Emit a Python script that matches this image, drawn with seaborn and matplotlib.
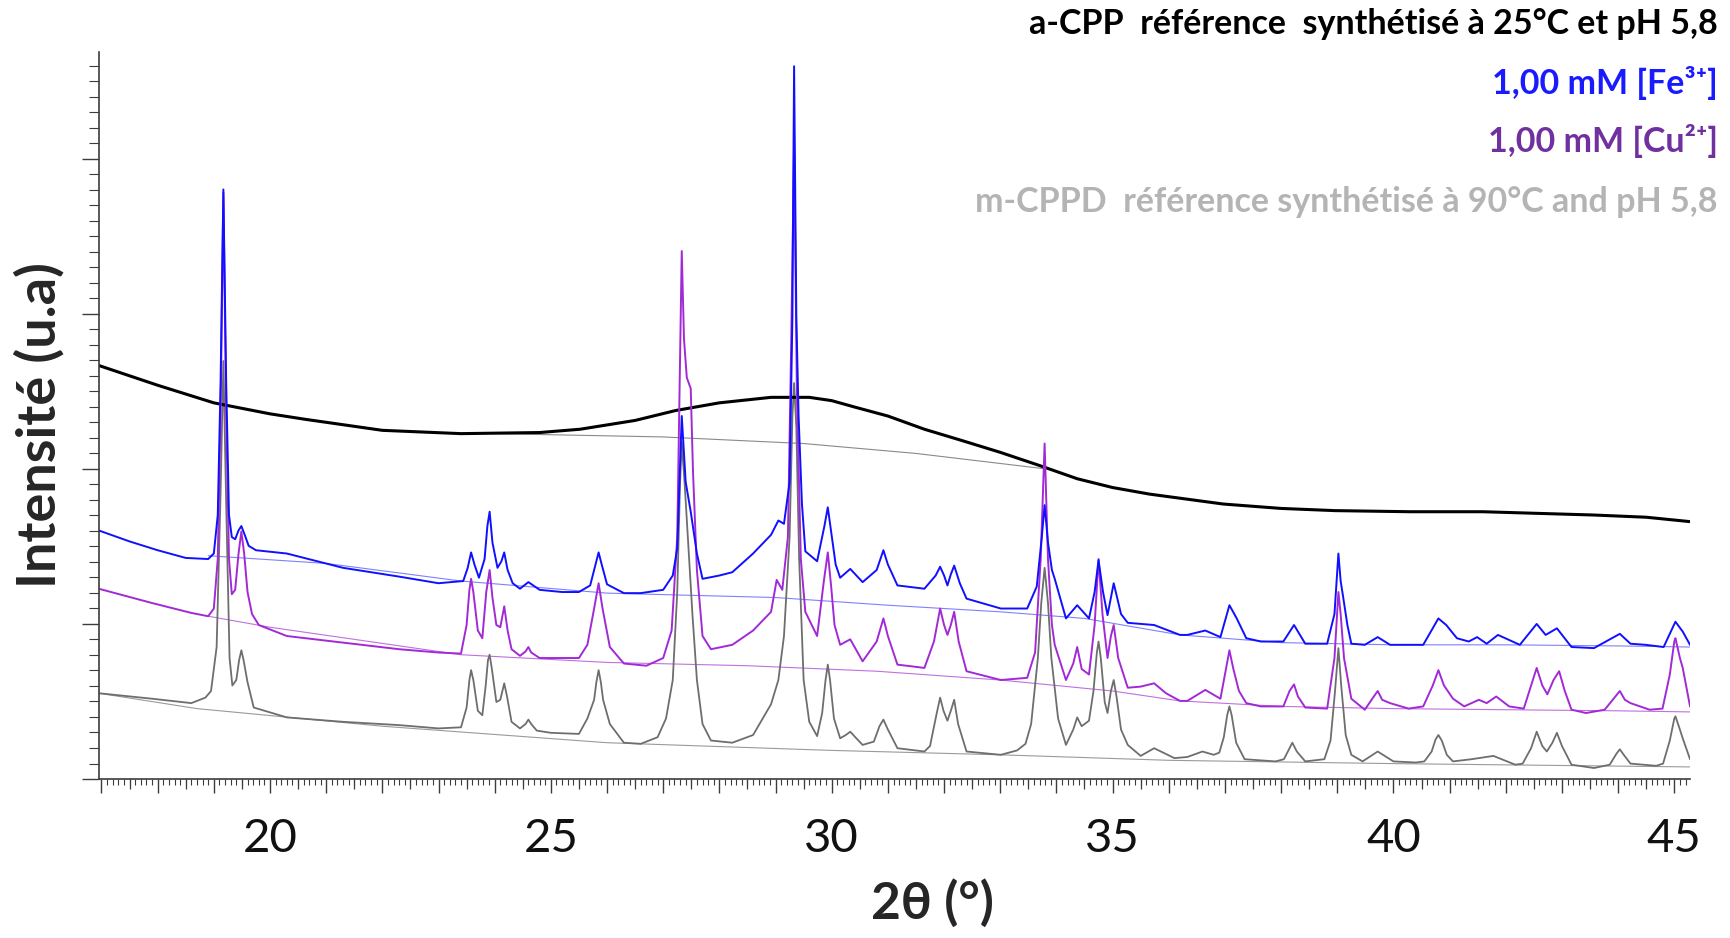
import numpy as np
import matplotlib
matplotlib.use("Agg")
import matplotlib.pyplot as plt
from matplotlib.ticker import MultipleLocator, FuncFormatter
import seaborn as sns

# Diffractogrammes DRX : (2theta en degres, intensite en u.a.)

# a-CPP reference (25 C, pH 5,8)
acpp = [(16.95, 376), (18.0, 358), (19.0, 342), (20.0, 332), (20.63, 327), (22.0, 317),
        (23.4, 314), (24.8, 315), (25.52, 318), (26.5, 326), (27.22, 335), (28.0, 342),
        (28.92, 347), (29.6, 347), (30.0, 344), (30.42, 338), (31.0, 330), (31.65, 318),
        (32.3, 308), (33.0, 297), (33.7, 285), (34.37, 273), (35.0, 265), (35.66, 259),
        (36.97, 250), (38.0, 246), (38.96, 244), (40.3, 243), (41.59, 243), (43.57, 240),
        (44.5, 238), (45.28, 234)]
acpp_bg = [(24.0, 314), (27.0, 311), (29.5, 305), (31.5, 296), (33.8, 282)]

# 1,00 mM Fe3+
fe = [(16.95, 226), (17.5, 216), (18.0, 208), (18.5, 201), (18.9, 200), (19.0, 205),
      (19.07, 240), (19.12, 360), (19.17, 536), (19.22, 360), (19.27, 240), (19.32, 220),
      (19.38, 218), (19.44, 226), (19.49, 230), (19.55, 222), (19.62, 212), (19.75, 208),
      (20.3, 205), (21.3, 192), (22.3, 184), (23.0, 178), (23.44, 180), (23.52, 192),
      (23.58, 206), (23.64, 195), (23.72, 183), (23.82, 200), (23.87, 230), (23.91, 243),
      (23.96, 215), (24.05, 192), (24.12, 198), (24.17, 206), (24.23, 190), (24.32, 178),
      (24.45, 173), (24.6, 179), (24.8, 172), (25.2, 170), (25.5, 170), (25.7, 176),
      (25.8, 196), (25.85, 206), (25.9, 196), (26.0, 177), (26.3, 169), (26.6, 169),
      (27.0, 172), (27.17, 185), (27.25, 210), (27.33, 330), (27.4, 270), (27.49, 243),
      (27.6, 205), (27.7, 182), (28.0, 185), (28.23, 188), (28.6, 205), (28.92, 222),
      (29.05, 235), (29.15, 232), (29.25, 270), (29.3, 420), (29.33, 648), (29.37, 420),
      (29.41, 330), (29.47, 250), (29.53, 207), (29.74, 198), (29.87, 230), (29.93, 247),
      (29.99, 225), (30.07, 195), (30.15, 183), (30.33, 191), (30.55, 179), (30.8, 190),
      (30.92, 208), (31.0, 195), (31.17, 176), (31.65, 173), (31.85, 185), (31.93, 193),
      (32.0, 185), (32.06, 176), (32.12, 186), (32.18, 194), (32.28, 178), (32.4, 164),
      (33.01, 155), (33.48, 155), (33.65, 175), (33.74, 220), (33.79, 249), (33.85, 215),
      (33.92, 190), (33.97, 182), (34.17, 146), (34.37, 158), (34.58, 146), (34.68, 170),
      (34.75, 199), (34.83, 170), (34.91, 149), (35.02, 178), (35.15, 150), (35.27, 142),
      (35.74, 140), (36.2, 131), (36.33, 131), (36.65, 135), (36.92, 129), (37.08, 158),
      (37.21, 146), (37.38, 128), (37.64, 125), (38.04, 125), (38.23, 140), (38.43, 123),
      (38.82, 123), (38.95, 150), (39.02, 205), (39.06, 180), (39.1, 167), (39.18, 140),
      (39.25, 123), (39.49, 122), (39.72, 129), (39.94, 122), (40.53, 122), (40.8, 146),
      (40.94, 140), (41.13, 128), (41.34, 125), (41.49, 129), (41.66, 123), (41.86, 131),
      (42.25, 122), (42.55, 141), (42.71, 131), (42.91, 137), (43.17, 120), (43.57, 119),
      (44.03, 132), (44.22, 123), (44.49, 122), (44.81, 120), (45.02, 143), (45.15, 134),
      (45.28, 122)]
fe_bg = [(18.9, 203), (21.0, 196), (23.4, 180), (26.0, 169), (29.0, 165), (31.0, 158),
         (33.0, 152), (34.5, 146), (36.2, 131), (38.0, 124), (40.0, 122), (42.0, 122),
         (44.0, 121), (45.28, 120)]

# 1,00 mM Cu2+
cu = [(16.95, 173), (17.9, 160), (18.6, 151), (18.9, 148), (19.0, 155), (19.07, 200),
      (19.12, 330), (19.17, 533), (19.22, 330), (19.27, 200), (19.32, 168), (19.38, 172),
      (19.44, 205), (19.49, 225), (19.54, 205), (19.6, 170), (19.68, 150), (19.8, 140),
      (20.3, 130), (21.3, 124), (22.3, 118), (23.0, 115), (23.4, 114), (23.5, 140),
      (23.55, 172), (23.58, 182), (23.62, 170), (23.7, 135), (23.78, 128), (23.85, 170),
      (23.91, 190), (23.96, 165), (24.03, 140), (24.1, 138), (24.17, 157), (24.23, 135),
      (24.3, 118), (24.45, 112), (24.55, 116), (24.6, 120), (24.65, 115), (24.8, 110),
      (25.0, 110), (25.5, 110), (25.65, 122), (25.77, 155), (25.85, 178), (25.92, 155),
      (26.05, 120), (26.3, 105), (26.7, 103), (27.0, 110), (27.15, 135), (27.25, 220),
      (27.3, 380), (27.33, 480), (27.37, 400), (27.42, 365), (27.49, 355), (27.53, 280),
      (27.6, 190), (27.7, 130), (27.85, 118), (28.23, 122), (28.6, 135), (28.92, 152),
      (29.02, 181), (29.12, 172), (29.22, 220), (29.28, 400), (29.33, 578), (29.38, 350),
      (29.45, 200), (29.53, 152), (29.74, 130), (29.86, 180), (29.93, 206), (29.99, 175),
      (30.05, 140), (30.15, 122), (30.33, 127), (30.55, 107), (30.8, 125), (30.92, 146),
      (31.0, 130), (31.17, 104), (31.65, 101), (31.82, 125), (31.93, 155), (32.0, 140),
      (32.06, 131), (32.12, 140), (32.18, 152), (32.26, 125), (32.4, 98), (33.01, 90),
      (33.48, 92), (33.62, 115), (33.72, 200), (33.79, 305), (33.85, 200), (33.92, 140),
      (33.97, 122), (34.17, 90), (34.3, 105), (34.37, 120), (34.45, 100), (34.58, 95),
      (34.68, 140), (34.75, 200), (34.82, 150), (34.91, 110), (34.97, 130), (35.02, 140),
      (35.1, 110), (35.27, 83), (35.5, 84), (35.74, 87), (35.95, 78), (36.2, 71),
      (36.33, 71), (36.65, 81), (36.92, 73), (37.0, 95), (37.08, 117), (37.15, 100),
      (37.25, 80), (37.38, 69), (37.64, 66), (38.04, 66), (38.15, 80), (38.23, 86),
      (38.3, 75), (38.43, 65), (38.82, 64), (38.95, 110), (39.02, 170), (39.06, 150),
      (39.12, 110), (39.25, 73), (39.49, 63), (39.65, 75), (39.72, 80), (39.8, 72),
      (39.94, 69), (40.27, 64), (40.53, 66), (40.7, 85), (40.8, 99), (40.9, 85),
      (41.06, 73), (41.26, 66), (41.52, 72), (41.66, 69), (41.83, 75), (42.06, 66),
      (42.32, 64), (42.45, 85), (42.55, 101), (42.65, 85), (42.74, 77), (42.85, 90),
      (42.95, 98), (43.05, 80), (43.17, 63), (43.43, 60), (43.76, 63), (43.95, 75),
      (44.03, 80), (44.12, 72), (44.22, 69), (44.56, 63), (44.79, 64), (44.92, 95),
      (45.0, 125), (45.02, 128), (45.1, 110), (45.15, 101), (45.28, 66)]
cu_bg = [(18.9, 148), (20.0, 138), (23.4, 113), (26.0, 106), (28.5, 103), (30.8, 98),
         (33.0, 90), (35.0, 80), (36.2, 71), (38.0, 66), (40.0, 64), (42.0, 63),
         (44.0, 62), (45.28, 61)]

# m-CPPD reference (90 C, pH 5,8)
mcppd = [(16.95, 78), (17.9, 73), (18.6, 69), (18.85, 74), (18.95, 80), (19.05, 120),
         (19.12, 260), (19.17, 380), (19.22, 250), (19.28, 110), (19.33, 85), (19.4, 90),
         (19.45, 108), (19.49, 117), (19.53, 108), (19.6, 88), (19.71, 65), (20.3, 56),
         (21.3, 52), (22.3, 49), (23.0, 46), (23.4, 47), (23.5, 65), (23.55, 90),
         (23.58, 99), (23.62, 90), (23.7, 62), (23.78, 58), (23.84, 85), (23.88, 108),
         (23.91, 113), (23.95, 100), (24.03, 70), (24.1, 72), (24.17, 87), (24.22, 75),
         (24.3, 52), (24.45, 46), (24.55, 50), (24.6, 54), (24.65, 50), (24.75, 44),
         (25.0, 42), (25.5, 41), (25.65, 55), (25.77, 72), (25.81, 88), (25.85, 99),
         (25.89, 88), (25.93, 72), (26.05, 50), (26.3, 33), (26.6, 32), (26.9, 38),
         (27.05, 55), (27.17, 90), (27.25, 170), (27.3, 270), (27.33, 306), (27.38, 270),
         (27.45, 210), (27.52, 150), (27.6, 90), (27.7, 50), (27.85, 35), (28.23, 33),
         (28.6, 40), (28.92, 68), (29.05, 90), (29.15, 130), (29.25, 220), (29.3, 330),
         (29.33, 360), (29.37, 320), (29.42, 200), (29.5, 90), (29.6, 52), (29.74, 39),
         (29.83, 60), (29.89, 90), (29.93, 104), (29.97, 90), (30.04, 55), (30.15, 37),
         (30.25, 40), (30.33, 43), (30.42, 38), (30.55, 31), (30.75, 34), (30.85, 48),
         (30.92, 54), (31.0, 45), (31.17, 28), (31.65, 25), (31.75, 30), (31.87, 60),
         (31.93, 74), (31.99, 62), (32.06, 53), (32.12, 62), (32.18, 72), (32.25, 50),
         (32.4, 25), (33.01, 22), (33.3, 26), (33.45, 32), (33.55, 50), (33.67, 110),
         (33.73, 160), (33.79, 192), (33.85, 160), (33.91, 110), (34.03, 55), (34.17, 31),
         (34.3, 45), (34.37, 56), (34.45, 48), (34.58, 53), (34.66, 80), (34.72, 115),
         (34.75, 125), (34.79, 110), (34.86, 70), (34.91, 60), (34.97, 80), (35.02, 90),
         (35.07, 75), (35.15, 45), (35.27, 31), (35.5, 21), (35.74, 28), (36.1, 19),
         (36.33, 20), (36.6, 25), (36.8, 22), (36.9, 24), (36.98, 38), (37.04, 58),
         (37.08, 66), (37.12, 58), (37.2, 33), (37.35, 18), (37.9, 16), (38.05, 18),
         (38.15, 28), (38.2, 33), (38.28, 25), (38.43, 16), (38.77, 18), (38.88, 35),
         (38.96, 80), (39.02, 119), (39.07, 85), (39.15, 40), (39.25, 22), (39.45, 16),
         (39.72, 25), (40.0, 16), (40.4, 15), (40.55, 16), (40.68, 25), (40.75, 36),
         (40.8, 40), (40.86, 35), (40.95, 22), (41.06, 16), (41.39, 18), (41.78, 21),
         (42.17, 13), (42.3, 14), (42.45, 28), (42.55, 43), (42.65, 30), (42.73, 25),
         (42.83, 33), (42.91, 42), (43.0, 30), (43.17, 13), (43.57, 10), (43.85, 13),
         (43.97, 23), (44.03, 27), (44.1, 22), (44.22, 14), (44.68, 12), (44.8, 14),
         (44.92, 35), (45.0, 55), (45.02, 57), (45.08, 48), (45.15, 37), (45.28, 18)]
mcppd_bg = [(16.95, 78), (18.7, 64), (22.0, 48), (26.0, 33), (30.0, 26), (33.0, 22),
            (36.0, 17), (40.0, 14), (45.28, 11)]

legend_labels = ["a-CPP  référence  synthétisé à 25°C et pH 5,8",
                 "1,00 mM [Fe³⁺]",
                 "1,00 mM [Cu²⁺]",
                 "m-CPPD  référence synthétisé à 90°C and pH 5,8"]
legend_colors = ["#000000", "#1a1aff", "#7030a0", "#b4b4b4"]

FONT = ["Lato", "DejaVu Sans"]

sns.set_style("white")
plt.rcParams["font.family"] = FONT

fig = plt.figure(figsize=(17.3, 9.38), dpi=100)
ax = fig.add_axes([0.0572, 0.1695, 0.9197, 0.7751])


def trace(points, color, lw):
    xs, ys = zip(*points)
    sns.lineplot(x=list(xs), y=list(ys), ax=ax, color=color, lw=lw, estimator=None)


# lignes de base
trace(mcppd_bg, "#9a9a9a", 0.8)
trace(acpp_bg, "#8a8a8a", 0.8)
trace(fe_bg, "#8080ff", 0.8)
trace(cu_bg, "#c070e0", 0.8)

# diffractogrammes
trace(mcppd, "#6e6e6e", 1.3)
trace(acpp, "#000000", 2.2)
trace(cu, "#a22ad6", 1.4)
trace(fe, "#1010ff", 1.4)

ax.set_xlim(16.955, 45.28)
ax.set_ylim(0, 661)

for s in ["top", "right"]:
    ax.spines[s].set_visible(False)
for s in ["left", "bottom"]:
    ax.spines[s].set_color("#3c3c3c")
    ax.spines[s].set_linewidth(1.2)

ax.xaxis.set_major_locator(MultipleLocator(1))
ax.xaxis.set_minor_locator(MultipleLocator(0.1))
ax.xaxis.set_major_formatter(FuncFormatter(lambda v, p: f"{v:.0f}" if round(v) % 5 == 0 else ""))
ax.yaxis.set_major_locator(MultipleLocator(141))
ax.yaxis.set_minor_locator(MultipleLocator(14.1))
ax.yaxis.set_major_formatter(FuncFormatter(lambda v, p: ""))

ax.tick_params(axis="x", which="major", direction="out", length=10, width=1.0,
               color="#3c3c3c", labelsize=34, pad=18, labelcolor="#111111")
ax.tick_params(axis="x", which="minor", direction="out", length=4, width=0.8, color="#3c3c3c")
ax.tick_params(axis="y", which="major", direction="out", length=12, width=1.0, color="#3c3c3c")
ax.tick_params(axis="y", which="minor", direction="out", length=7, width=0.8, color="#3c3c3c")
ax.tick_params(left=True, bottom=True, which="both")

# graduations des demi-degres
sec = ax.secondary_xaxis("bottom")
sec.set_xticks(np.arange(17.5, 45.5, 1.0))
sec.tick_params(direction="out", length=7, width=0.9, color="#3c3c3c", labelbottom=False)
sec.spines["bottom"].set_visible(False)

fig.text(0.539, 0.037, "2θ (°)", ha="center", va="center", fontsize=37,
         fontweight="bold", family=FONT)
fig.text(0.0225, 0.547, "Intensité (u.a)", ha="center", va="center", rotation=90,
         fontsize=39, fontweight="bold", family=FONT)

ys = [0.974, 0.912, 0.850, 0.785]
for lab, col, yy in zip(legend_labels, legend_colors, ys):
    fig.text(0.993, yy, lab, ha="right", va="center", fontsize=24.5,
             fontweight="bold", color=col, family=FONT)

fig.savefig("out.png", dpi=100)
